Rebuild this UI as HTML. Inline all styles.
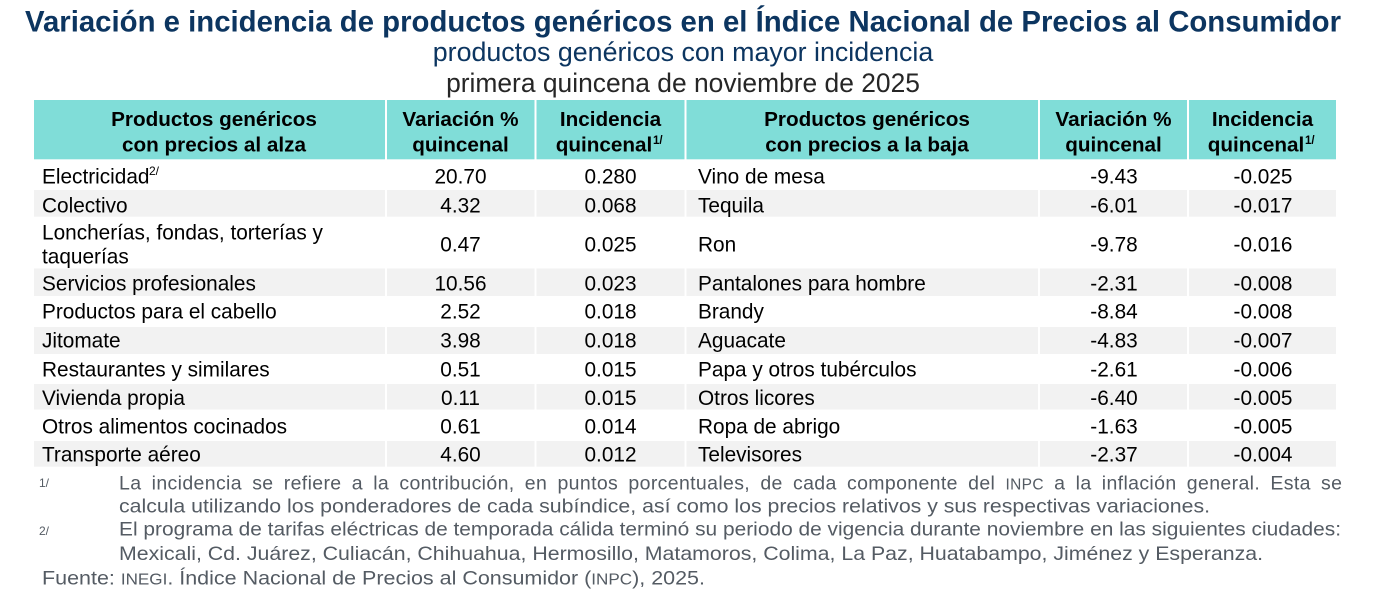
<!DOCTYPE html>
<html><head><meta charset="utf-8"><style>
html,body{margin:0;padding:0;background:#fff;}
svg{display:block;}
text{font-family:"Liberation Sans",Arial,sans-serif;}
</style></head><body>
<svg width="1382" height="614" viewBox="0 0 1382 614" xmlns="http://www.w3.org/2000/svg">
<rect width="1382" height="614" fill="#fff"/>
<!-- Titles -->
<text x="25" y="31.7" font-size="29.3" font-weight="bold" fill="#0c3560" textLength="1316" lengthAdjust="spacingAndGlyphs">Variación e incidencia de productos genéricos en el Índice Nacional de Precios al Consumidor</text>
<text x="683" y="61" font-size="26.8" fill="#0c3560" text-anchor="middle">productos genéricos con mayor incidencia</text>
<text x="683" y="92" font-size="26.4" fill="#262626" text-anchor="middle">primera quincena de noviembre de 2025</text>

<!-- Header -->
<g fill="#80ddd8">
<rect x="34" y="100" width="351" height="59.3"/>
<rect x="387" y="100" width="147.5" height="59.3"/>
<rect x="536.5" y="100" width="148" height="59.3"/>
<rect x="686.5" y="100" width="351.5" height="59.3"/>
<rect x="1040" y="100" width="147" height="59.3"/>
<rect x="1189" y="100" width="147" height="59.3"/>
</g>
<g font-size="20.7" font-weight="bold" fill="#000" text-anchor="middle">
<text x="214" y="126">Productos genéricos</text>
<text x="214" y="151.5">con precios al alza</text>
<text x="460.5" y="126">Variación %</text>
<text x="460.5" y="151.5">quincenal</text>
<text x="610.5" y="126">Incidencia</text>
<text x="604" y="151.5">quincenal</text>
<text x="867" y="126">Productos genéricos</text>
<text x="867" y="151.5">con precios a la baja</text>
<text x="1113.5" y="126">Variación %</text>
<text x="1113.5" y="151.5">quincenal</text>
<text x="1262.5" y="126">Incidencia</text>
<text x="1256" y="151.5">quincenal</text>
</g>
<g font-size="11.5" font-weight="bold" fill="#000">
<text x="653" y="144">1/</text>
<text x="1305" y="144">1/</text>
</g>

<!-- Gray rows -->
<g fill="#f2f2f2">
<rect x="34" y="190" width="351" height="26.7"/><rect x="387" y="190" width="147.5" height="26.7"/><rect x="536.5" y="190" width="148" height="26.7"/><rect x="686.5" y="190" width="351.5" height="26.7"/><rect x="1040" y="190" width="147" height="26.7"/><rect x="1189" y="190" width="147" height="26.7"/>
<rect x="34" y="268.4" width="351" height="27.6"/><rect x="387" y="268.4" width="147.5" height="27.6"/><rect x="536.5" y="268.4" width="148" height="27.6"/><rect x="686.5" y="268.4" width="351.5" height="27.6"/><rect x="1040" y="268.4" width="147" height="27.6"/><rect x="1189" y="268.4" width="147" height="27.6"/>
<rect x="34" y="327" width="351" height="27"/><rect x="387" y="327" width="147.5" height="27"/><rect x="536.5" y="327" width="148" height="27"/><rect x="686.5" y="327" width="351.5" height="27"/><rect x="1040" y="327" width="147" height="27"/><rect x="1189" y="327" width="147" height="27"/>
<rect x="34" y="384" width="351" height="25.5"/><rect x="387" y="384" width="147.5" height="25.5"/><rect x="536.5" y="384" width="148" height="25.5"/><rect x="686.5" y="384" width="351.5" height="25.5"/><rect x="1040" y="384" width="147" height="25.5"/><rect x="1189" y="384" width="147" height="25.5"/>
<rect x="34" y="441" width="351" height="25.7"/><rect x="387" y="441" width="147.5" height="25.7"/><rect x="536.5" y="441" width="148" height="25.7"/><rect x="686.5" y="441" width="351.5" height="25.7"/><rect x="1040" y="441" width="147" height="25.7"/><rect x="1189" y="441" width="147" height="25.7"/>
</g>

<!-- Body left -->
<g font-size="20.8" fill="#000">
<text x="42" y="183.5">Electricidad</text>
<text x="42" y="212.5">Colectivo</text>
<text x="42" y="239.3">Loncherías, fondas, torterías y</text>
<text x="42" y="263.3">taquerías</text>
<text x="42" y="290.5">Servicios profesionales</text>
<text x="42" y="318.5">Productos para el cabello</text>
<text x="42" y="347.5">Jitomate</text>
<text x="42" y="376.5">Restaurantes y similares</text>
<text x="42" y="404.8">Vivienda propia</text>
<text x="42" y="433.3">Otros alimentos cocinados</text>
<text x="42" y="461.3">Transporte aéreo</text>
</g>
<text x="149" y="175" font-size="12" fill="#000">2/</text>
<g font-size="20.8" fill="#000" text-anchor="middle">
<text x="460.5" y="183.5">20.70</text>
<text x="460.5" y="212.5">4.32</text>
<text x="460.5" y="251.5">0.47</text>
<text x="460.5" y="290.5">10.56</text>
<text x="460.5" y="318.5">2.52</text>
<text x="460.5" y="347.5">3.98</text>
<text x="460.5" y="376.5">0.51</text>
<text x="460.5" y="404.8">0.11</text>
<text x="460.5" y="433.3">0.61</text>
<text x="460.5" y="461.3">4.60</text>
<text x="610.5" y="183.5">0.280</text>
<text x="610.5" y="212.5">0.068</text>
<text x="610.5" y="251.5">0.025</text>
<text x="610.5" y="290.5">0.023</text>
<text x="610.5" y="318.5">0.018</text>
<text x="610.5" y="347.5">0.018</text>
<text x="610.5" y="376.5">0.015</text>
<text x="610.5" y="404.8">0.015</text>
<text x="610.5" y="433.3">0.014</text>
<text x="610.5" y="461.3">0.012</text>
</g>

<!-- Body right -->
<g font-size="20.8" fill="#000">
<text x="698" y="183.5">Vino de mesa</text>
<text x="698" y="212.5">Tequila</text>
<text x="698" y="251.5">Ron</text>
<text x="698" y="290.5">Pantalones para hombre</text>
<text x="698" y="318.5">Brandy</text>
<text x="698" y="347.5">Aguacate</text>
<text x="698" y="376.5">Papa y otros tubérculos</text>
<text x="698" y="404.8">Otros licores</text>
<text x="698" y="433.3">Ropa de abrigo</text>
<text x="698" y="461.3">Televisores</text>
</g>
<g font-size="20.8" fill="#000" text-anchor="middle">
<text x="1114" y="183.5">-9.43</text>
<text x="1114" y="212.5">-6.01</text>
<text x="1114" y="251.5">-9.78</text>
<text x="1114" y="290.5">-2.31</text>
<text x="1114" y="318.5">-8.84</text>
<text x="1114" y="347.5">-4.83</text>
<text x="1114" y="376.5">-2.61</text>
<text x="1114" y="404.8">-6.40</text>
<text x="1114" y="433.3">-1.63</text>
<text x="1114" y="461.3">-2.37</text>
<text x="1263" y="183.5">-0.025</text>
<text x="1263" y="212.5">-0.017</text>
<text x="1263" y="251.5">-0.016</text>
<text x="1263" y="290.5">-0.008</text>
<text x="1263" y="318.5">-0.008</text>
<text x="1263" y="347.5">-0.007</text>
<text x="1263" y="376.5">-0.006</text>
<text x="1263" y="404.8">-0.005</text>
<text x="1263" y="433.3">-0.005</text>
<text x="1263" y="461.3">-0.004</text>
</g>

<!-- Footnotes -->
<g fill="#545b63">
<text x="39" y="487" font-size="12">1/</text>
<text x="39" y="535" font-size="12">2/</text>
<g font-size="19.5">
<text x="119" y="489.3" word-spacing="4.5" textLength="1223" lengthAdjust="spacing">La incidencia se refiere a la contribución, en puntos porcentuales, de cada componente del <tspan font-size="15.5">INPC</tspan> a la inflación general. Esta se</text>
<text x="119" y="512.3" textLength="1091" lengthAdjust="spacingAndGlyphs">calcula utilizando los ponderadores de cada subíndice, así como los precios relativos y sus respectivas variaciones.</text>
<text x="119" y="535.7" textLength="1222" lengthAdjust="spacingAndGlyphs">El programa de tarifas eléctricas de temporada cálida terminó su periodo de vigencia durante noviembre en las siguientes ciudades:</text>
<text x="119" y="560" textLength="1144" lengthAdjust="spacingAndGlyphs">Mexicali, Cd. Juárez, Culiacán, Chihuahua, Hermosillo, Matamoros, Colima, La Paz, Huatabampo, Jiménez y Esperanza.</text>
<text x="42" y="584.5" textLength="663" lengthAdjust="spacingAndGlyphs">Fuente: <tspan font-size="15.5">INEGI</tspan>. Índice Nacional de Precios al Consumidor (<tspan font-size="15.5">INPC</tspan>), 2025.</text>
</g>
</g>
</svg>
</body></html>
